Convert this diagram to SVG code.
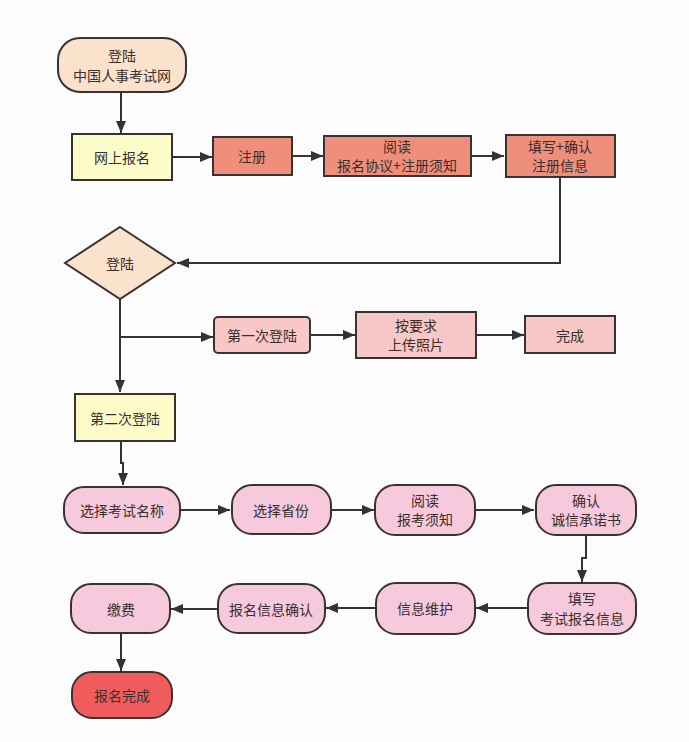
<svg xmlns="http://www.w3.org/2000/svg" width="689" height="742" viewBox="0 0 689 742">
<defs>
<marker id="ah" viewBox="0 0 12 10" refX="12" refY="5" markerWidth="12" markerHeight="10" markerUnits="userSpaceOnUse" orient="auto">
<path d="M0,0 L12,5 L0,10 Z" fill="#333"/>
</marker>
<style>
.n{stroke:#3a3232;stroke-width:2}
.peach{fill:#fbe2cc}
.yel{fill:#fcfcc9}
.sal{fill:#ee8f7b}
.pk{fill:#f8c8c6}
.pill{fill:#f6c9dd}
.red{fill:#f05c5c}
text{font-family:"Noto Sans CJK SC","Noto Sans",sans-serif;font-size:14px;fill:#3a2e2e;text-anchor:middle;dominant-baseline:central}
.c path{fill:none;stroke:#333;stroke-width:2;marker-end:url(#ah)}
</style>
</defs>
<rect width="689" height="742" fill="#fdfcfd"/>
<g class="c">
<path d="M121 92 V133"/>
<path d="M172 157 H212"/>
<path d="M292 156 H323"/>
<path d="M471 156 H504"/>
<path d="M560 177 V263 H177"/>
<path d="M120 299 V392"/>
<path d="M120 337 H213"/>
<path d="M310 335 H355"/>
<path d="M476 335 H524"/>
<path d="M121 441 V463 H123 V485"/>
<path d="M180 510 H230"/>
<path d="M331 510 H374"/>
<path d="M475 510 H534"/>
<path d="M586 535 V558 H582 V582"/>
<path d="M528 608 H476"/>
<path d="M376 608 H326"/>
<path d="M218 609 H171"/>
<path d="M121 633 V671"/>
</g>
<g id="n1"><rect class="n peach" x="58" y="38" width="128" height="54" rx="22"/><text x="122" y="55">登陆</text><text x="122" y="75">中国人事考试网</text></g>
<g id="n2"><rect class="n yel" x="72" y="134" width="100" height="46"/><text x="122" y="157">网上报名</text></g>
<g id="n3"><rect class="n sal" x="213" y="137" width="79" height="38"/><text x="252" y="156">注册</text></g>
<g id="n4"><rect class="n sal" x="324" y="136" width="147" height="40"/><text x="397" y="146">阅读</text><text x="397" y="165">报名协议+注册须知</text></g>
<g id="n5"><rect class="n sal" x="506" y="135" width="109" height="42"/><text x="560" y="146">填写+确认</text><text x="560" y="165">注册信息</text></g>
<g id="n6"><polygon class="n peach" points="120,227 175,263 120,299 65,263"/><text x="120" y="263">登陆</text></g>
<g id="n7"><rect class="n pk" x="214" y="317" width="96" height="36" rx="4"/><text x="262" y="335">第一次登陆</text></g>
<g id="n8"><rect class="n pk" x="356" y="312" width="120" height="46"/><text x="416" y="325">按要求</text><text x="416" y="344">上传照片</text></g>
<g id="n9"><rect class="n pk" x="525" y="316" width="90" height="37"/><text x="570" y="335">完成</text></g>
<g id="n10"><rect class="n yel" x="75" y="394" width="100" height="47"/><text x="125" y="418">第二次登陆</text></g>
<g id="n11"><rect class="n pill" x="64" y="487" width="116" height="46" rx="20"/><text x="122" y="510">选择考试名称</text></g>
<g id="n12"><rect class="n pill" x="232" y="485" width="99" height="49" rx="20"/><text x="281" y="510">选择省份</text></g>
<g id="n13"><rect class="n pill" x="375" y="485" width="100" height="50" rx="20"/><text x="425" y="500">阅读</text><text x="425" y="519">报考须知</text></g>
<g id="n14"><rect class="n pill" x="536" y="485" width="100" height="50" rx="20"/><text x="586" y="500">确认</text><text x="586" y="519">诚信承诺书</text></g>
<g id="n15"><rect class="n pill" x="528" y="583" width="108" height="51" rx="20"/><text x="582" y="598">填写</text><text x="582" y="618">考试报名信息</text></g>
<g id="n16"><rect class="n pill" x="376" y="583" width="99" height="51" rx="20"/><text x="425" y="608">信息维护</text></g>
<g id="n17"><rect class="n pill" x="218" y="584" width="107" height="49" rx="20"/><text x="271" y="609">报名信息确认</text></g>
<g id="n18"><rect class="n pill" x="71" y="584" width="99" height="49" rx="20"/><text x="121" y="609">缴费</text></g>
<g id="n19"><rect class="n red" x="72" y="672" width="100" height="46" rx="20"/><text x="122" y="695">报名完成</text></g>
</svg>
